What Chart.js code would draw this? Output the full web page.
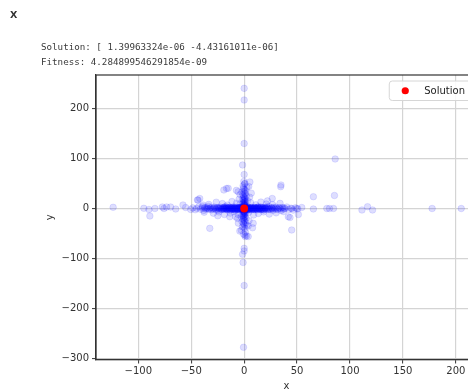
<!DOCTYPE html>
<html>
<head>
<meta charset="utf-8">
<script src="https://cdn.jsdelivr.net/npm/chart.js@4/dist/chart.umd.min.js"></script>
<style>
  html, body { margin: 0; padding: 0; background: #fff; overflow: hidden; width: 468px; height: 391px; }
  #wrap { position: relative; width: 468px; height: 391px; overflow: hidden; }
  #plot { position: absolute; left: 0; top: 0; }
  .hdr { position: absolute; left: 10px; top: 9px; font: bold 9.5px "DejaVu Sans", sans-serif; color: #333; }
  .out { position: absolute; left: 41px; font: 9.2px "DejaVu Sans Mono", "Liberation Mono", monospace; color: #3a3a3a; white-space: pre; line-height: 12px; }
</style>
</head>
<body>
<div id="wrap">
  <canvas id="plot" width="540" height="391"></canvas>
  <div class="hdr">X</div>
  <div class="out" style="top:41px">Solution: [ 1.39963324e-06 -4.43161011e-06]</div>
  <div class="out" style="top:55.5px">Fitness: 4.284899546291854e-09</div>
</div>
<script>
// Best solution found by the optimiser
const solutionX = 1.39963324e-06;
const solutionY = -4.43161011e-06;

// Axis ticks
const xTicks = [-100, -50, 0, 50, 100, 150, 200];
const yTicks = [-300, -200, -100, 0, 100, 200];

// Population samples: dense centre
const core = [
  [0.4,0.2],[-0.6,0.5],[1.2,-0.4],[-1.5,-0.8],[2.1,0.9],[-2.4,1.3],[0.9,-1.6],[-0.3,2.1],[1.8,2.4],[-1.1,-2.2],
  [3.0,-0.5],[-3.2,0.3],[0.2,-3.1],[-0.7,3.4],[2.6,-2.0],[-2.9,-1.9],[4.1,0.8],[-4.3,-0.6],[0.5,4.3],[-0.4,-4.2],
  [3.7,2.9],[-3.5,2.6],[1.4,-3.8],[-1.9,3.9],[5.2,-0.3],[-5.0,0.4],[0.3,5.4],[0.1,-5.6],[5.9,1.6],[-6.1,-1.2],
  [4.6,-2.7],[-4.8,2.2],[6.8,0.2],[-7.0,-0.3],[2.2,0.1],[-2.0,-0.2],[1.0,1.1],[-1.0,1.0],[0.8,-0.9],[-0.9,-1.1],
  [3.3,1.2],[-3.4,-1.3],[1.3,3.0],[-1.2,-3.2],[0.0,1.7],[0.1,-1.8],[1.7,0.0],[-1.8,0.1],[2.8,-1.0],[-2.7,0.8],
  [0.6,2.6],[-0.5,-2.7],[4.9,0.6],[-5.3,-0.8],[0.4,6.2],[-0.2,-6.4],[7.6,-0.9],[-7.9,1.1],[3.9,-1.6],[-3.8,1.7],
  [0.7,0.7],[-0.8,-0.6],[1.5,-1.4],[-1.6,1.5],[2.4,1.8],[-2.3,-1.7],[5.6,-1.9],[-5.7,1.8],[6.3,2.5],[-6.6,-2.4]
];

// Population samples: tight band along the x direction
const coreBand = [
  [-37.5,0.6],[-36.4,-1.1],[-35.2,1.9],[-34.0,-0.3],[-32.9,-2.0],[-31.8,0.9],[-30.7,2.4],[-29.5,-1.5],[-28.4,0.0],[-27.4,1.3],
  [-26.3,-2.6],[-25.3,0.7],[-24.3,2.1],[-23.2,-0.8],[-22.1,1.0],[-21.1,-2.2],[-20.0,0.3],[-19.0,2.8],[-18.0,-1.0],[-17.0,0.5],
  [-16.1,-2.9],[-15.1,1.7],[-14.2,-0.4],[-13.3,2.4],[-12.3,-1.5],[-11.4,0.8],[-10.5,-0.6],[-9.6,1.4],[-8.7,-1.9],[-7.8,0.2],
  [-6.9,2.3],[-6.0,-1.6],[-5.1,0.9],[-4.2,-2.4],[-3.3,1.1],[-2.4,-0.7],[-1.5,2.0],[-0.6,-1.3],[0.4,1.4],[1.3,-2.1],
  [2.3,0.6],[3.2,-0.9],[4.1,2.2],[5.0,-1.7],[5.9,0.3],[6.9,-2.6],[7.8,1.5],[8.7,-0.2],[9.7,2.0],[10.6,-1.4],
  [11.6,0.7],[12.5,-2.3],[13.5,1.2],[14.4,-0.5],[15.4,2.7],[16.4,-1.8],[17.4,0.4],[18.4,-2.7],[19.4,1.6],[20.5,-0.1],
  [21.5,2.1],[22.6,-1.6],[23.7,0.9],[24.8,-2.4],[25.9,1.3],[27.0,-0.8],[28.2,2.3],[29.4,-1.7],[30.6,0.5],[31.8,-2.1],
  [33.0,1.8],[34.3,-0.6],[35.6,2.0],[36.9,-1.3],[38.2,0.8],
  [-19.5,-1.2],[-18.5,1.1],[-17.5,-0.1],[-16.6,2.2],[-15.6,-1.1],[-14.7,0.9],[-13.8,-2.0],[-12.8,0.2],[-11.9,1.9],[-11.0,-1.3],
  [-10.0,0.6],[-9.1,-0.8],[-8.2,2.5],[-7.3,-1.0],[-6.4,0.4],[-5.5,-2.7],[-4.6,1.6],[-3.7,-0.2],[-2.8,2.6],[-1.9,-1.9],
  [-1.0,0.3],[-0.1,-0.5],[0.9,2.3],[1.8,-1.0],[2.7,0.9],[3.6,-2.8],[4.5,0.1],[5.4,1.8],[6.4,-0.6],[7.3,2.0],
  [8.2,-1.5],[9.2,0.6],[10.1,-2.3],[11.1,1.0],[12.0,-0.3],[13.0,1.9],[14.0,-1.9],[14.9,0.0],[15.9,2.3],[16.9,-0.9],
  [17.9,1.2],[18.9,-2.1],[19.9,0.8]
];

// Population samples: wider spread along the x direction
const armHorizontal = [
  [-48.6,1.2],[-46.2,-2.5],[-44.8,0.5],[-42.9,3.6],[-41.3,-1.4],[-39.7,0.9],[-38.2,-3.8],[-36.9,2.2],[-35.1,-0.6],[-33.8,4.5],
  [-32.4,1.0],[-31.0,-2.7],[-29.6,0.2],[-28.3,3.1],[-27.1,-1.2],[-25.8,1.8],[-24.6,-3.5],[-23.5,0.4],[-22.3,2.7],[-21.2,-0.9],
  [-20.1,1.5],[-19.2,-2.2],[-18.3,0.7],[-17.4,3.8],[-16.5,-1.6],[-15.7,0.3],[-14.9,2.0],[-14.0,-0.5],[-13.2,-3.0],[-12.5,1.2],
  [-11.7,-1.0],[-11.0,2.6],[-10.3,0.1],[-9.6,-2.0],[-8.9,1.0],[-8.3,-0.4],
  [8.4,0.6],[9.1,-1.2],[9.8,2.1],[10.6,-0.3],[11.3,1.4],[12.1,-2.5],[12.9,0.2],[13.6,3.3],[14.5,-1.0],[15.3,1.1],
  [16.2,-0.6],[17.1,2.4],[18.0,-2.9],[19.0,0.4],[20.0,1.9],[21.1,-1.3],[22.2,0.8],[23.4,3.9],[24.6,-0.7],[25.9,1.5],
  [27.2,-3.6],[28.6,0.3],[30.0,2.7],[31.5,-1.1],[33.1,0.9],[34.8,-4.2],[36.5,1.8],[38.4,-0.5],[40.3,3.0],[42.2,-1.9],
  [44.1,0.6],[46.3,-3.2],[48.4,1.4],[50.7,-0.8],
  [-24.0,0.8],[-21.7,-1.7],[-19.8,0.1],[-18.8,2.3],[-16.9,-0.3],[-15.2,-2.6],[-13.7,1.6],[-12.0,-0.2],[-10.8,-1.8],[-9.9,2.9],
  [-9.2,0.5],[-8.5,-3.1],[8.7,-2.2],[9.5,0.4],[10.2,1.7],[11.8,-0.9],[13.0,2.6],[14.2,0.0],[15.9,-2.0],[17.6,1.0],
  [19.5,-0.4],[21.6,2.2],[23.0,-1.8],[26.5,0.5]
];

// Population samples: loose halo around the horizontal band
const haloHorizontal = [
  [-33.5,8.2],[-29.1,-9.4],[-26.4,12.6],[-23.8,-7.0],[-20.6,9.8],[-18.7,-12.1],[-15.9,6.9],[-13.1,-9.2],[-11.5,14.0],[-9.4,-6.5],
  [-7.2,10.5],[-5.8,-11.8],[-3.9,8.8],[4.2,-8.1],[6.1,11.6],[8.9,-13.0],[11.0,7.4],[13.4,-9.9],[15.8,12.9],[18.3,-6.8],
  [20.9,9.1],[23.7,-11.2],[26.8,7.8],[30.2,-8.7],[33.9,10.3],[-37.8,-7.5],[37.2,-6.2],[-24.9,-14.5],[22.0,15.2],[-8.0,-16.4]
];

// Population samples: spread along the y direction
const armVertical = [
  [0.3,7.4],[-0.5,8.6],[0.8,9.9],[-1.1,11.3],[0.2,12.8],[1.4,14.1],[-0.7,15.9],[0.5,17.6],[-1.6,19.2],[1.0,21.0],
  [-0.2,23.1],[2.0,25.3],[-1.3,27.6],[0.6,30.2],[-2.2,32.8],[1.3,35.7],[-0.4,38.9],[2.6,42.1],[-1.0,45.6],[0.4,49.3],[-0.3,54.1],
  [-0.2,-7.1],[0.6,-8.4],[-0.9,-9.8],[1.1,-11.2],[-0.1,-12.9],[-1.5,-14.3],[0.9,-16.0],[-0.6,-17.8],[1.7,-19.5],[-1.2,-21.4],
  [0.3,-23.6],[-2.1,-25.9],[1.4,-28.3],[-0.5,-31.0],[2.3,-33.9],[-1.7,-36.8],[0.8,-40.2],[-2.7,-43.7],[1.2,-47.5],[-0.6,-51.2],[0.9,-56.0],
  [0.1,8.0],[-0.4,10.5],[0.7,13.3],[-0.9,16.8],[0.4,20.3],[-0.1,-7.9],[0.5,-10.6],[-0.8,-13.7],[0.2,-17.2],[-0.3,-20.8],
  [-0.6,24.8],[0.9,28.9],[-0.2,33.4],[0.5,37.6],[-0.8,41.5],[0.2,-24.9],[-0.7,-29.2],[0.6,-33.1],[-0.3,-38.0]
];

// Population samples: loose halo around the vertical band
const haloVertical = [
  [-4.8,18.5],[5.1,22.7],[-6.2,-19.8],[4.6,-24.5],[-3.9,27.9],[6.7,30.6],[-5.5,-29.3],[3.8,-34.8],[-7.3,36.2],[7.9,-38.5],
  [4.3,44.0],[-4.1,-45.2],[3.2,15.4],[-3.0,-16.3]
];

// Population samples: scattered far from the optimum
const outliers = [
  [-123.8,2.4],[-94.8,0.4],[-89.1,-15],[-90,-2],[-84.4,0],[-77.3,3],[-75.8,0],[-73.3,3],[-69.5,3],[-64.7,-1],
  [-57.8,7],[-55.3,2],[-50.5,-2],[-44.2,17],[-39.4,4],
  [44.9,0],[49.7,0],[54.4,2],[51.2,-12],[43.3,-18],[44.9,-43],[65.4,23.6],[65.4,-1],[78.1,0],[80.6,0],
  [84.4,0],[85.3,26],[86,99],[111.3,-3],[116.6,3.6],[121.3,-3],[177.6,0],[205.1,0],
  [0,240.3],[0,217],[0,130],[-1.5,87],[0,68],[5.4,53],[0,-79.7],[0,-85],[-1.5,-91.6],[-1,-108],[0,-154],[-0.6,-277.6],[3.8,-56],[2.3,-55],
  [34.5,43.6],[26.5,20],[-32.5,-39.7],[-43.6,17],[-19.2,37],[-15.1,40.3],[-5.7,33.6],[-16.7,40],[-13.6,-16.4],[8.5,-29.6],
  [0.7,-53],[41.7,-16.4],[-42,20],[-38.9,7],[34.8,47],[0.7,50]
];

const population = [
  ...outliers, ...haloHorizontal, ...haloVertical, ...armHorizontal, ...armVertical, ...coreBand, ...core
].map(([x, y]) => ({ x, y }));

const toMinus = v => String(v).replace('-', '\u2212');

// Full frame around the plotting area
const framePlugin = {
  id: 'frame',
  afterDatasetsDraw(chart) {
    const { ctx, chartArea: a } = chart;
    ctx.save();
    ctx.strokeStyle = '#333';
    ctx.lineWidth = 1.2;
    ctx.strokeRect(a.left, a.top, a.right - a.left, a.bottom - a.top);
    ctx.restore();
  }
};

// Boxed legend in the upper right corner of the plotting area
const legendBoxPlugin = {
  id: 'legendBox',
  afterDraw(chart) {
    const { ctx, chartArea: a } = chart;
    const label = chart.data.datasets[0].label;
    ctx.save();
    ctx.font = '10px "DejaVu Sans", sans-serif';
    const tw = ctx.measureText(label).width;
    const h = 19.5, right = a.right - 6, top = a.top + 6;
    const w = tw + 41;
    const left = right - w;
    ctx.beginPath();
    ctx.roundRect(left, top, w, h, 3);
    ctx.fillStyle = 'rgba(255,255,255,0.85)';
    ctx.fill();
    ctx.strokeStyle = '#d6d6d6';
    ctx.lineWidth = 1;
    ctx.stroke();
    ctx.beginPath();
    ctx.arc(left + 16, top + h / 2, 3.6, 0, Math.PI * 2);
    ctx.fillStyle = 'red';
    ctx.fill();
    ctx.fillStyle = '#222';
    ctx.textBaseline = 'middle';
    ctx.fillText(label, left + 35, top + h / 2 + 0.5);
    ctx.restore();
  }
};

new Chart(document.getElementById('plot'), {
  type: 'scatter',
  data: {
    datasets: [
      {
        label: 'Solution',
        data: [{ x: solutionX, y: solutionY }],
        backgroundColor: 'rgb(255,0,0)',
        borderColor: 'rgb(255,0,0)',
        borderWidth: 0,
        pointRadius: 3.9,
        order: 1
      },
      {
        label: 'Population',
        data: population,
        backgroundColor: 'rgba(0,0,255,0.13)',
        borderColor: 'rgba(0,0,255,0.13)',
        borderWidth: 0.8,
        pointRadius: 3.3,
        order: 2
      }
    ]
  },
  options: {
    responsive: false,
    animation: false,
    devicePixelRatio: 1,
    layout: { padding: { top: 75, right: 63, bottom: 0, left: 0 } },
    plugins: { legend: { display: false }, tooltip: { enabled: false } },
    scales: {
      x: {
        type: 'linear',
        min: -140,
        max: 220,
        afterBuildTicks: s => { s.ticks = xTicks.map(v => ({ value: v })); },
        afterFit: s => { s.height = 31.5; },
        grid: { color: '#d4d4d4', lineWidth: 1.2, tickColor: '#333', tickLength: 4, tickWidth: 1 },
        border: { display: true, color: '#333', width: 1.2 },
        ticks: {
          padding: 2,
          color: '#333',
          font: { family: '"DejaVu Sans", sans-serif', size: 10 },
          maxRotation: 0,
          callback: v => toMinus(v)
        },
        title: {
          display: true,
          text: 'x',
          color: '#333',
          font: { family: '"DejaVu Sans", sans-serif', size: 10, lineHeight: 1 },
          padding: { top: 0, bottom: 0 }
        }
      },
      y: {
        type: 'linear',
        min: -302,
        max: 267,
        afterBuildTicks: s => { s.ticks = yTicks.map(v => ({ value: v })); },
        afterFit: s => { s.width = 96; },
        grid: { color: '#d4d4d4', lineWidth: 1.2, tickColor: '#333', tickLength: 4, tickWidth: 1 },
        border: { display: true, color: '#333', width: 1.2 },
        ticks: {
          padding: 3,
          color: '#333',
          font: { family: '"DejaVu Sans", sans-serif', size: 10 },
          callback: v => toMinus(v)
        },
        title: {
          display: true,
          text: 'y',
          color: '#333',
          font: { family: '"DejaVu Sans", sans-serif', size: 10, lineHeight: 1 },
          padding: { top: 45, bottom: 0 }
        }
      }
    }
  },
  plugins: [framePlugin, legendBoxPlugin]
});
</script>
</body>
</html>
